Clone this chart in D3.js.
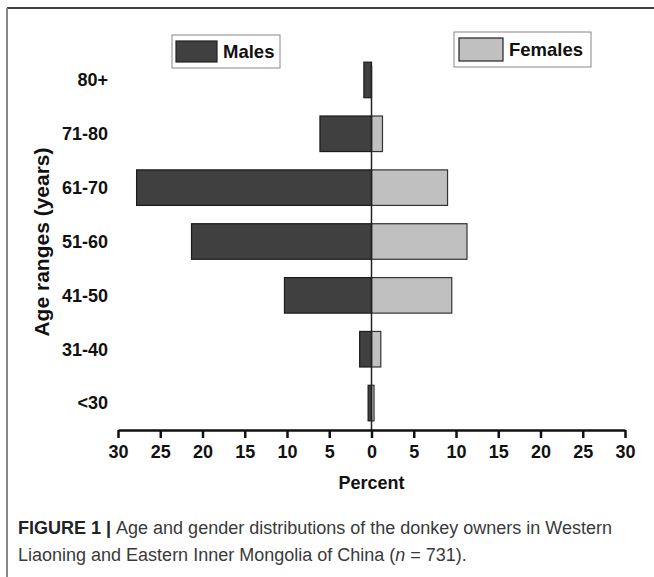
<!DOCTYPE html>
<html>
<head>
<meta charset="utf-8">
<script src="https://cdn.jsdelivr.net/npm/d3@7"></script>
<style>
  body { margin: 0; background: #fff; }
  svg { display: block; }
</style>
</head>
<body>
<script>
const ageGroups = ['80+', '71-80', '61-70', '51-60', '41-50', '31-40', '<30'];
const males = [0.9, 6.1, 27.8, 21.3, 10.3, 1.4, 0.4];
const females = [0, 1.3, 9.0, 11.3, 9.5, 1.1, 0.3];
const ticks = [-30, -25, -20, -15, -10, -5, 0, 5, 10, 15, 20, 25, 30];

const svgWidth = 654;
const svgHeight = 577;

const svg = d3.select('body')
              .append('svg')
              .attr('width', svgWidth)
              .attr('height', svgHeight);

// frame (top + left edges only)
svg.append('line').attr('x1', 7).attr('x2', 654).attr('y1', 8).attr('y2', 8)
   .attr('stroke', '#444').attr('stroke-width', 2);
svg.append('line').attr('x1', 7).attr('x2', 7).attr('y1', 8).attr('y2', 577)
   .attr('stroke', '#888').attr('stroke-width', 2);

const x = d3.scaleLinear().domain([-30, 30]).range([118, 625]);
const y = d3.scaleBand().domain(ageGroups).range([53, 430])
            .paddingInner(0.34).paddingOuter(0.17);

const rows = ageGroups.map((g, i) => ({ group: g, m: males[i], f: females[i] }));

// female bars (right)
svg.selectAll('rect.f')
   .data(rows.filter(d => d.f > 0))
   .enter()
   .append('rect')
   .attr('class', 'f')
   .attr('x', x(0))
   .attr('y', d => y(d.group))
   .attr('width', d => x(d.f) - x(0))
   .attr('height', y.bandwidth())
   .attr('fill', '#c0c0c0')
   .attr('stroke', '#333')
   .attr('stroke-width', 1.2);

// male bars (left)
svg.selectAll('rect.m')
   .data(rows)
   .enter()
   .append('rect')
   .attr('class', 'm')
   .attr('x', d => x(-d.m))
   .attr('y', d => y(d.group))
   .attr('width', d => x(0) - x(-d.m))
   .attr('height', y.bandwidth())
   .attr('fill', '#404040')
   .attr('stroke', '#1a1a1a')
   .attr('stroke-width', 1.2);

// zero line
svg.append('line')
   .attr('x1', x(0)).attr('x2', x(0))
   .attr('y1', 66).attr('y2', 430)
   .attr('stroke', '#222').attr('stroke-width', 1.5);

// x axis
const xAxis = d3.axisBottom(x)
                .tickValues(ticks)
                .tickFormat(d => Math.abs(d))
                .tickSize(8)
                .tickSizeOuter(0);

const gx = svg.append('g')
              .attr('transform', 'translate(0,430)')
              .call(xAxis);
gx.select('.domain').attr('stroke', '#111').attr('stroke-width', 2.5);
gx.selectAll('.tick line').attr('stroke', '#111').attr('stroke-width', 2.5);
gx.selectAll('.tick text')
  .attr('y', 15)
  .attr('fill', '#111')
  .style('font', 'bold 18px "Liberation Sans", Arial, sans-serif');

svg.append('text')
   .attr('x', x(0)).attr('y', 489)
   .attr('text-anchor', 'middle')
   .attr('fill', '#111')
   .style('font', 'bold 18px "Liberation Sans", Arial, sans-serif')
   .text('Percent');

// category labels
svg.selectAll('text.cat')
   .data(ageGroups)
   .enter()
   .append('text')
   .attr('class', 'cat')
   .attr('x', 108)
   .attr('y', d => y(d) + y.bandwidth() / 2)
   .attr('dy', '0.35em')
   .attr('text-anchor', 'end')
   .attr('fill', '#111')
   .style('font', 'bold 18px "Liberation Sans", Arial, sans-serif')
   .text(d => d);

svg.append('text')
   .attr('transform', 'translate(49,242) rotate(-90)')
   .attr('text-anchor', 'middle')
   .attr('fill', '#111')
   .style('font', 'bold 21px "Liberation Sans", Arial, sans-serif')
   .text('Age ranges (years)');

// legends
const legends = [
  { label: 'Males', fill: '#404040', box: [172, 35, 108, 33], sw: [176, 41, 41, 21] },
  { label: 'Females', fill: '#c0c0c0', box: [454, 32, 137, 35], sw: [459, 38, 44, 23] }
];
legends.forEach(l => {
  svg.append('rect')
     .attr('x', l.box[0]).attr('y', l.box[1])
     .attr('width', l.box[2]).attr('height', l.box[3])
     .attr('fill', '#fff').attr('stroke', '#888').attr('stroke-width', 1);
  svg.append('rect')
     .attr('x', l.sw[0]).attr('y', l.sw[1])
     .attr('width', l.sw[2]).attr('height', l.sw[3])
     .attr('fill', l.fill).attr('stroke', '#222').attr('stroke-width', 1.2);
  svg.append('text')
     .attr('x', l.sw[0] + l.sw[2] + 6)
     .attr('y', l.sw[1] + l.sw[3] / 2)
     .attr('dy', '0.36em')
     .attr('fill', '#111')
     .style('font', 'bold 18.5px "Liberation Sans", Arial, sans-serif')
     .text(l.label);
});

// caption
const cap = svg.append('g')
               .style('font', '18px "Liberation Sans", Arial, sans-serif')
               .attr('fill', '#3a3a3a');
const line1 = cap.append('text').attr('x', 18).attr('y', 534);
line1.append('tspan').attr('font-weight', 'bold').attr('fill', '#222').text('FIGURE 1 | ');
line1.append('tspan').text('Age and gender distributions of the donkey owners in Western');
const line2 = cap.append('text').attr('x', 18).attr('y', 561);
line2.append('tspan').text('Liaoning and Eastern Inner Mongolia of China (');
line2.append('tspan').attr('font-style', 'italic').text('n');
line2.append('tspan').text(' = 731).');
</script>
</body>
</html>
